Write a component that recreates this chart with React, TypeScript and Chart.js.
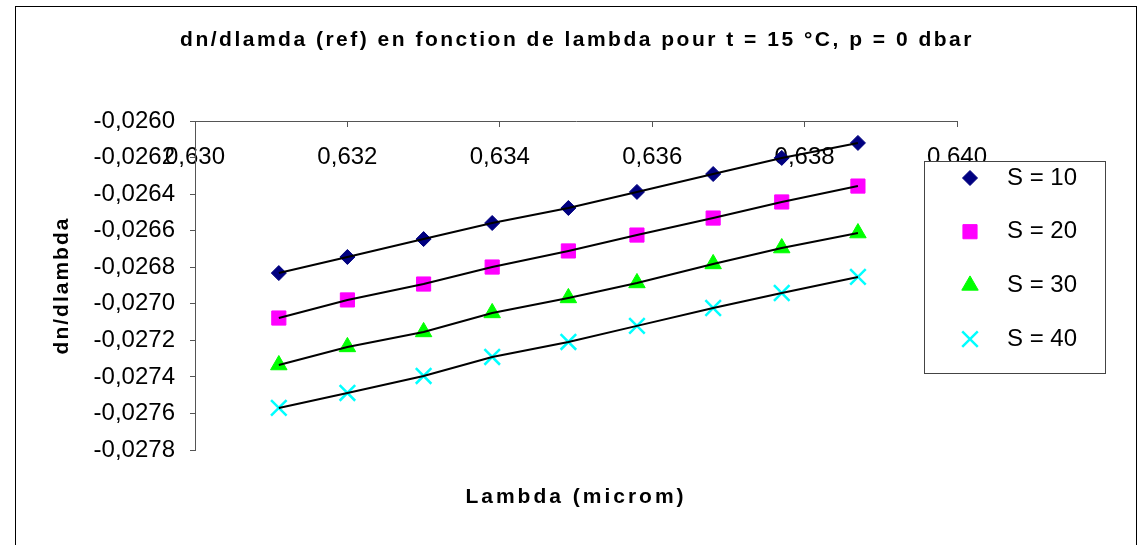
import React, { useEffect, useRef } from 'react';
import { Chart, registerables } from 'chart.js';
import { drawPoint } from 'chart.js/helpers';

Chart.register(...registerables);

// ---- data ----
const lambda = [0.6311, 0.632, 0.633, 0.6339, 0.6349, 0.6358, 0.6368, 0.6377, 0.6387];
const s10 = [-0.026832, -0.026744, -0.026646, -0.026558, -0.026476, -0.026388, -0.02629, -0.026202, -0.02612];
const s20 = [-0.027078, -0.026979, -0.026892, -0.026799, -0.026711, -0.026624, -0.026531, -0.026443, -0.026356];
const s30 = [-0.027335, -0.027236, -0.027154, -0.02705, -0.026968, -0.026886, -0.026782, -0.026695, -0.026613];
const s40 = [-0.02757, -0.027488, -0.027395, -0.027291, -0.027209, -0.027121, -0.027023, -0.026941, -0.026853];
const seriesLabels = ['S = 10', 'S = 20', 'S = 30', 'S = 40'];
const xMin = 0.63;
const xMax = 0.64;
const xStep = 0.002;
const yMin = -0.0278;
const yMax = -0.026;
const yStep = 0.0002;

const titleText = 'dn/dlamda (ref) en fonction de lambda pour t = 15 °C, p = 0 dbar';
const xTitle = 'Lambda (microm)';
const yTitle = 'dn/dlambda';

const FONT = '"Liberation Sans", Arial, Helvetica, sans-serif';

const seriesValues = [s10, s20, s30, s40];
const markerStyles = [
  { pointStyle: 'rectRot', radius: 7.5, color: '#000080', borderWidth: 1 },
  { pointStyle: 'rect', radius: 10, color: '#FF00FF', borderWidth: 1 },
  { pointStyle: 'triangle', radius: 9.5, color: '#00FF00', borderWidth: 1 },
  { pointStyle: 'crossRot', radius: 11, color: '#00FFFF', borderWidth: 2.5 },
];

const framePlugin = {
  id: 'frame',
  beforeDraw(chart: any) {
    const ctx = chart.ctx;
    ctx.save();
    ctx.fillStyle = '#ffffff';
    ctx.fillRect(0, 0, chart.width, chart.height);
    ctx.strokeStyle = '#000000';
    ctx.lineWidth = 1;
    ctx.strokeRect(15.5, 6.5, 1121, 600);
    ctx.restore();
  },
};

const spacingPlugin = {
  id: 'spacing',
  beforeDraw(chart: any) {
    const patch = (obj: any, key: string, sp: string) => {
      if (!obj || obj['__patched_' + key]) return;
      const orig = obj[key];
      obj[key] = function (...args: any[]) {
        const ctx: any = chart.ctx;
        const prev = ctx.letterSpacing;
        ctx.letterSpacing = sp;
        try {
          return orig.apply(this, args);
        } finally {
          ctx.letterSpacing = prev;
        }
      };
      obj['__patched_' + key] = true;
    };
    patch(chart.titleBlock, 'draw', '2.5px');
    patch(chart.scales.x2, 'drawTitle', '3px');
    patch(chart.scales.y, 'drawTitle', '2px');
  },
};

const legendPlugin = {
  id: 'boxLegend',
  afterDraw(chart: any) {
    const ctx = chart.ctx;
    ctx.save();
    ctx.fillStyle = '#ffffff';
    ctx.fillRect(924.5, 161.5, 181, 212);
    ctx.strokeStyle = '#444444';
    ctx.lineWidth = 1;
    ctx.strokeRect(924.5, 161.5, 181, 212);
    const markers = chart.data.datasets.filter((d: any) => d.isMarker);
    markers.forEach((ds: any, i: number) => {
      const y = 178 + i * 53.7;
      ctx.fillStyle = ds.backgroundColor;
      ctx.strokeStyle = ds.borderColor;
      ctx.lineWidth = ds.borderWidth;
      drawPoint(
        ctx,
        { pointStyle: ds.pointStyle, radius: ds.pointRadius, rotation: 0, borderWidth: ds.borderWidth } as any,
        970,
        y
      );
      ctx.fillStyle = '#000000';
      ctx.font = `24px ${FONT}`;
      ctx.textBaseline = 'middle';
      ctx.textAlign = 'left';
      ctx.fillText(ds.label, 1007, y);
    });
    ctx.restore();
  },
};

export default function App() {
  const canvasRef = useRef<HTMLCanvasElement | null>(null);

  useEffect(() => {
    if (!canvasRef.current) return;

    const markerSets = seriesValues.map((vals, i) => ({
      label: seriesLabels[i],
      isMarker: true,
      data: lambda.map((x, j) => ({ x, y: vals[j] })),
      showLine: false,
      pointStyle: markerStyles[i].pointStyle,
      pointRadius: markerStyles[i].radius,
      pointHoverRadius: markerStyles[i].radius,
      backgroundColor: markerStyles[i].color,
      borderColor: markerStyles[i].color,
      borderWidth: markerStyles[i].borderWidth,
      pointBorderWidth: markerStyles[i].borderWidth,
      xAxisID: 'x',
      yAxisID: 'y',
      order: 1,
    }));

    const lineSets = seriesValues.map((vals, i) => ({
      label: seriesLabels[i] + ' line',
      isMarker: false,
      data: lambda.map((x, j) => ({ x, y: vals[j] })),
      showLine: true,
      pointRadius: 0,
      pointHoverRadius: 0,
      borderColor: '#000000',
      backgroundColor: '#000000',
      borderWidth: 2,
      fill: false,
      tension: 0,
      xAxisID: 'x',
      yAxisID: 'y',
      order: 0,
    }));

    const axisColor = '#555555';

    const chart = new Chart(canvasRef.current, {
      type: 'scatter',
      data: { datasets: [...markerSets, ...lineSets] as any },
      options: {
        animation: false,
        responsive: false,
        events: [],
        layout: { padding: { left: 10, right: 0, top: 0, bottom: 0 } },
        plugins: {
          legend: { display: false },
          tooltip: { enabled: false },
          title: {
            display: true,
            text: titleText,
            color: '#000000',
            font: { family: FONT, size: 21, weight: 'bold', lineHeight: 1.2 },
            padding: { top: 28, bottom: 10 },
          },
        },
        scales: {
          x: {
            type: 'linear',
            position: 'top',
            min: xMin,
            max: xMax,
            afterFit: (scale: any) => {
              scale.height = 121 - (28 + 21 * 1.2 + 10);
            },
            border: { display: true, color: axisColor, width: 1 },
            grid: { drawOnChartArea: false, drawTicks: true, tickLength: -6, color: axisColor },
            ticks: {
              stepSize: xStep,
              mirror: true,
              padding: 22,
              autoSkip: false,
              maxRotation: 0,
              minRotation: 0,
              color: '#000000',
              font: { family: FONT, size: 24 },
              callback: (v: any) => Number(v).toFixed(3).replace('.', ','),
            },
          },
          x2: {
            type: 'linear',
            position: 'bottom',
            min: xMin,
            max: xMax,
            afterFit: (scale: any) => {
              scale.height = 95;
            },
            border: { display: false },
            grid: { display: false },
            ticks: { display: false },
            title: {
              display: true,
              text: xTitle,
              color: '#000000',
              font: { family: FONT, size: 21, weight: 'bold', lineHeight: 1.2 },
              padding: { top: 0, bottom: 35 },
            },
          },
          y: {
            type: 'linear',
            position: 'left',
            min: yMin,
            max: yMax,
            afterFit: (scale: any) => {
              scale.width = 185;
            },
            border: { display: true, color: axisColor, width: 1 },
            grid: { drawOnChartArea: false, drawTicks: true, tickLength: 5, color: axisColor },
            ticks: {
              stepSize: yStep,
              padding: 15,
              autoSkip: false,
              color: '#000000',
              font: { family: FONT, size: 24 },
              callback: (v: any) => Number(v).toFixed(4).replace('.', ','),
            },
            title: {
              display: true,
              text: yTitle,
              color: '#000000',
              font: { family: FONT, size: 21, weight: 'bold', lineHeight: 1.2 },
              padding: { top: 40, bottom: 0 },
            },
          },
          y2: {
            type: 'linear',
            position: 'right',
            min: yMin,
            max: yMax,
            afterFit: (scale: any) => {
              scale.width = 187;
            },
            border: { display: false },
            grid: { display: false },
            ticks: { display: false },
          },
        },
      } as any,
      plugins: [framePlugin, spacingPlugin, legendPlugin],
    });

    return () => {
      chart.destroy();
    };
  }, []);

  return (
    <div style={{ position: 'absolute', left: 0, top: 0, width: 1144, height: 545, background: '#fff' }}>
      <canvas ref={canvasRef} width={1144} height={545} style={{ display: 'block' }} />
    </div>
  );
}
